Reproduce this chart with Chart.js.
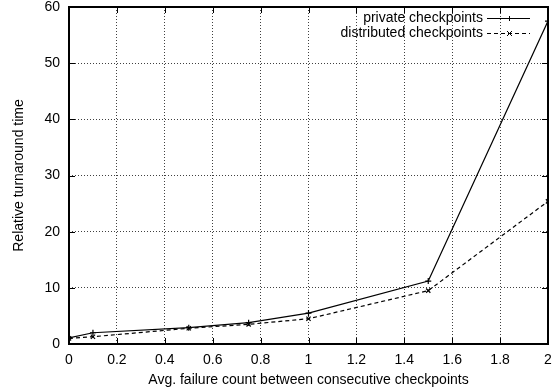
<!DOCTYPE html>
<html><head><meta charset="utf-8">
<script src="https://cdn.jsdelivr.net/npm/chart.js@4/dist/chart.umd.min.js"></script>
<style>html,body{margin:0;padding:0;background:#fff}#wrap{width:556px;height:392px}</style>
</head><body><div id="wrap"><canvas id="c" width="556" height="392"></canvas></div>
<script>
const failureCounts = [0, 0.1, 0.5, 0.75, 1, 1.5, 2];
const privateCheckpoints = [1.1, 2.0, 2.9, 3.8, 5.5, 11.2, 57.5];
const distributedCheckpoints = [1.0, 1.3, 2.8, 3.5, 4.5, 9.5, 25.4];
const seriesNames = ['private checkpoints', 'distributed checkpoints'];
const xTitle = 'Avg. failure count between consecutive checkpoints';
const yTitle = 'Relative turnaround time';

const FONT = '"Liberation Sans", Arial, Helvetica, sans-serif';

const frame = {
  id: 'frame',
  afterDatasetsDraw(chart) {
    const {ctx, chartArea: a} = chart;
    ctx.save();
    ctx.strokeStyle = '#000'; ctx.lineWidth = 1;
    const xs = chart.scales.x, ys = chart.scales.y;
    xs.ticks.forEach(t => {
      const px = Math.round(xs.getPixelForValue(t.value)) + 0.5;
      ctx.beginPath(); ctx.moveTo(px, a.bottom); ctx.lineTo(px, a.bottom - 6);
      ctx.moveTo(px, a.top); ctx.lineTo(px, a.top + 6); ctx.stroke();
    });
    ys.ticks.forEach(t => {
      const py = Math.round(ys.getPixelForValue(t.value)) + 0.5;
      ctx.beginPath(); ctx.moveTo(a.left, py); ctx.lineTo(a.left + 6, py);
      ctx.moveTo(a.right, py); ctx.lineTo(a.right - 6, py); ctx.stroke();
    });
    ctx.lineWidth = 2;
    ctx.strokeRect(a.left, a.top, a.right - a.left, a.bottom - a.top);
    // legend
    ctx.font = '14px ' + FONT;
    ctx.textAlign = 'right'; ctx.textBaseline = 'middle';
    chart.data.datasets.forEach((ds, i) => {
      const y = 18 + i * 15;
      ctx.fillStyle = '#000';
      ctx.fillText(ds.label, 483, y);
      ctx.lineWidth = 1; ctx.strokeStyle = '#000';
      ctx.setLineDash(ds.borderDash || []);
      ctx.beginPath(); ctx.moveTo(487, y + 0.5); ctx.lineTo(530, y + 0.5); ctx.stroke();
      ctx.setLineDash([]);
      const cx = 509.5, cy = y + 0.5, r = 2.5;
      ctx.beginPath();
      if (ds.pointStyle === 'cross') {
        ctx.moveTo(cx - r, cy); ctx.lineTo(cx + r, cy); ctx.moveTo(cx, cy - r); ctx.lineTo(cx, cy + r);
      } else {
        ctx.moveTo(cx - r, cy - r); ctx.lineTo(cx + r, cy + r); ctx.moveTo(cx - r, cy + r); ctx.lineTo(cx + r, cy - r);
      }
      ctx.stroke();
    });
    ctx.restore();
  }
};

new Chart(document.getElementById('c'), {
  type: 'line',
  data: {
    datasets: [
      { label: seriesNames[0], data: failureCounts.map((x, i) => ({x, y: privateCheckpoints[i]})),
        borderColor: '#000', borderWidth: 1.2, pointStyle: 'cross', pointRadius: 3, pointBorderWidth: 1.2,
        pointBorderColor: '#000', tension: 0, fill: false },
      { label: seriesNames[1], data: failureCounts.map((x, i) => ({x, y: distributedCheckpoints[i]})),
        borderColor: '#000', borderWidth: 1.2, borderDash: [4, 3], pointStyle: 'crossRot', pointRadius: 3, pointBorderWidth: 1.2,
        pointBorderColor: '#000', tension: 0, fill: false }
    ]
  },
  options: {
    responsive: false, animation: false, devicePixelRatio: 1,
    layout: { padding: { top: 7, right: 8, left: 0, bottom: 0 } },
    plugins: { legend: { display: false }, tooltip: { enabled: false } },
    scales: {
      x: {
        type: 'linear', min: 0, max: 2,
        afterFit(s) { s.height = 48; s.paddingLeft = 0; s.paddingRight = 0; },
        border: { display: false, dash: [1, 2] },
        grid: { color: 'rgba(0,0,0,0.75)', lineWidth: 1, drawTicks: false },
        ticks: { stepSize: 0.2, color: '#000', padding: 8, font: { family: FONT, size: 14 }, maxRotation: 0,
          callback: v => String(Math.round(v * 10) / 10) },
        title: { display: true, text: xTitle, color: '#000', font: { family: FONT, size: 14 }, padding: { top: 0, bottom: 3 } }
      },
      y: {
        type: 'linear', min: 0, max: 60,
        afterFit(s) { s.width = 69; s.paddingTop = 0; s.paddingBottom = 0; },
        border: { display: false, dash: [1, 2] },
        grid: { color: 'rgba(0,0,0,0.75)', lineWidth: 1, drawTicks: false },
        ticks: { stepSize: 10, color: '#000', padding: 9, font: { family: FONT, size: 14 } },
        title: { display: true, text: yTitle, color: '#000', font: { family: FONT, size: 14 }, padding: { top: 11, bottom: 0 } }
      }
    }
  },
  plugins: [frame]
});
</script></body></html>
